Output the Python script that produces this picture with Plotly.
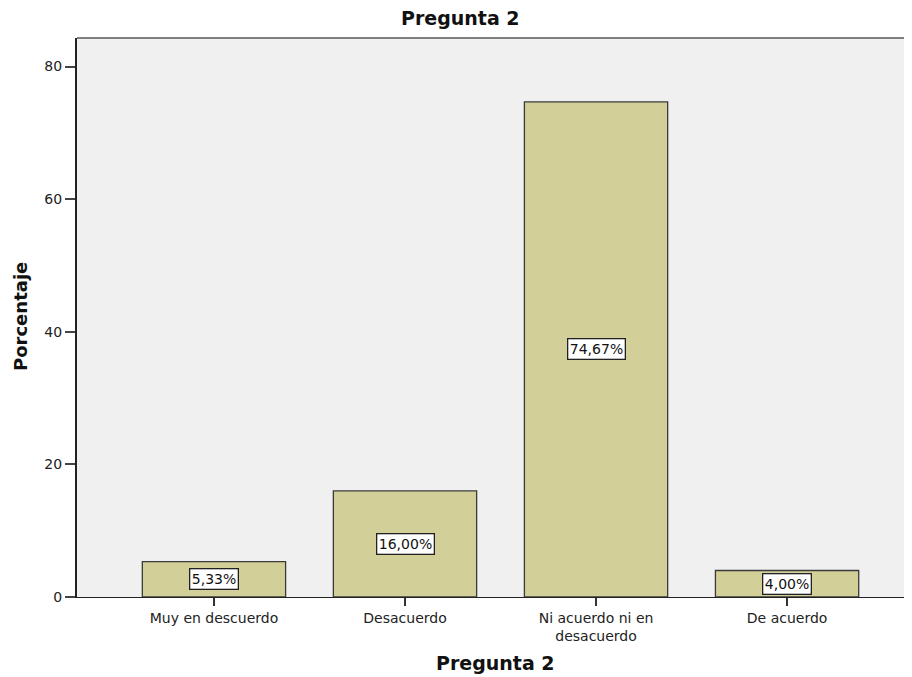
import plotly.graph_objects as go

categories = ["Muy en descuerdo", "Desacuerdo", "Ni acuerdo ni en<br>desacuerdo", "De acuerdo"]
percentages = [5.33, 16.00, 74.67, 4.00]
y_ticks = [0, 20, 40, 60, 80]

FONT = "DejaVu Sans, Liberation Sans, Arial, sans-serif"
OFF = 8  # page body margin
W, H = 912 - OFF, 677 - OFF
L, R, T = 77 - OFF, 0, 38 - OFF
B = H - (597 - OFF)
pw, ph = W - L - R, H - T - B


def px_x(px):
    return (px - OFF - L) / pw


def px_y(py):
    return (H - B - (py - OFF)) / ph


fig = go.Figure()
fig.add_trace(go.Bar(
    x=list(range(len(categories))),
    y=percentages,
    width=0.75,
    marker=dict(color="#D3CF98", line=dict(color="#3a3a3a", width=1.3)),
    hoverinfo="skip",
))

annotations = []
for i, v in enumerate(percentages):
    annotations.append(dict(
        x=i, y=v / 2, xref="x", yref="y",
        text=f"{v:.2f}%".replace(".", ","),
        showarrow=False,
        bgcolor="white", bordercolor="#222", borderwidth=1.3, borderpad=1.5,
        font=dict(family=FONT, size=14, color="#111"),
    ))

annotations.append(dict(
    x=px_x(460), y=px_y(18), xref="paper", yref="paper",
    text="<b>Pregunta 2</b>", showarrow=False,
    xanchor="center", yanchor="middle",
    font=dict(family=FONT, size=19, color="#111"),
))
annotations.append(dict(
    x=px_x(495), y=px_y(663), xref="paper", yref="paper",
    text="<b>Pregunta 2</b>", showarrow=False,
    xanchor="center", yanchor="middle",
    font=dict(family=FONT, size=19, color="#111"),
))
annotations.append(dict(
    x=px_x(20), y=px_y(317), xref="paper", yref="paper",
    text="<b>Porcentaje</b>", showarrow=False, textangle=-90,
    xanchor="center", yanchor="middle",
    font=dict(family=FONT, size=18, color="#111"),
))

fig.update_layout(
    width=W, height=H,
    margin=dict(l=L, r=R, t=T, b=B, pad=0),
    paper_bgcolor="white",
    plot_bgcolor="#F0F0F0",
    showlegend=False,
    annotations=annotations,
    font=dict(family=FONT, size=14, color="#222"),
    xaxis=dict(
        range=[-0.717, 3.654],
        tickmode="array",
        tickvals=list(range(len(categories))),
        ticktext=categories,
        showline=True, linecolor="#222", linewidth=1.3,
        ticks="outside", ticklen=8, tickcolor="#333", tickwidth=1.5,
        showgrid=False, zeroline=False,
        tickfont=dict(family=FONT, size=14, color="#222"),
    ),
    yaxis=dict(
        range=[0, 84.3],
        tickvals=y_ticks,
        showline=True, linecolor="#222", linewidth=2,
        ticks="outside", ticklen=10, tickcolor="#444", tickwidth=1.5,
        showgrid=False, zeroline=False,
        tickfont=dict(family=FONT, size=14, color="#222"),
    ),
    shapes=[dict(
        type="line", xref="paper", yref="paper",
        x0=0, x1=1, y0=1, y1=1,
        line=dict(color="#808080", width=2),
    )],
)

fig.write_html("out.html")
